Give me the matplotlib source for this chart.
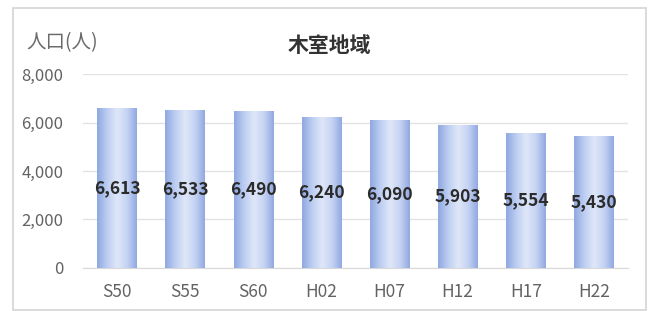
import numpy as np
import matplotlib
matplotlib.use('Agg')
import matplotlib.pyplot as plt
from matplotlib.colors import LinearSegmentedColormap
from matplotlib.patches import Rectangle

plt.rcParams['font.family'] = ['Noto Sans CJK JP', 'DejaVu Sans']

# Data
years = ['S50', 'S55', 'S60', 'H02', 'H07', 'H12', 'H17', 'H22']
population = [6613, 6533, 6490, 6240, 6090, 5903, 5554, 5430]
title = '木室地域'
ylabel = '人口(人)'

fig = plt.figure(figsize=(6.53, 3.11), dpi=100)
ax = fig.add_axes([0.1271, 0.1383, 0.8346, 0.6237])

x = np.arange(len(years))
bars = ax.bar(x, population, width=0.58, color='#b3c5ee', edgecolor='none', zorder=2)

# Horizontal gradient inside each bar (darker edges, light middle).
cmap = LinearSegmentedColormap.from_list('barg', ['#8ea7e1', '#bccdf1', '#dfe7f8', '#c6d4f3', '#90a8e1'])
grad = np.linspace(0, 1, 256).reshape(1, -1)
for b in bars:
	x0, w, h = b.get_x(), b.get_width(), b.get_height()
	im = ax.imshow(grad, cmap=cmap, aspect='auto', extent=[x0, x0 + w, 0, h], zorder=3, interpolation='bicubic')
	im.set_clip_path(b)

# Data labels in the middle of each bar.
for xi, v in zip(x, population):
	ax.text(xi, v / 2.0, '{:,}'.format(v), ha='center', va='center', fontsize=12.5,
			fontweight='bold', color='#2b2b2b', zorder=4)

ax.set_xlim(-0.5, len(years) - 0.5)
ax.set_ylim(0, 8000)
yticks = [0, 2000, 4000, 6000, 8000]
ax.set_yticks(yticks)
ax.set_yticklabels(['{:,}'.format(t) for t in yticks])
ax.set_xticks(x)
ax.set_xticklabels(years)
ax.tick_params(axis='both', length=0, colors='#636363')
ax.tick_params(axis='y', labelsize=12, pad=14)
ax.tick_params(axis='x', labelsize=12.5, pad=11)
ax.yaxis.grid(True, color='#e3e3e3', linewidth=1)
ax.set_axisbelow(True)
for s in ['top', 'right', 'left']:
	ax.spines[s].set_visible(False)
ax.spines['bottom'].set_color('#d9d9d9')

fig.text(0.505, 0.855, title, ha='center', va='center', fontsize=15, fontweight='bold', color='#333333')
fig.text(0.041, 0.862, ylabel, ha='left', va='center', fontsize=14, color='#6a6a6a')

# Chart border
fig.patches.append(Rectangle((0.02, 0.003), 0.969, 0.97, transform=fig.transFigure,
		fill=False, edgecolor='#d4d4d4', linewidth=1.2))

fig.savefig('out.png', dpi=100)
